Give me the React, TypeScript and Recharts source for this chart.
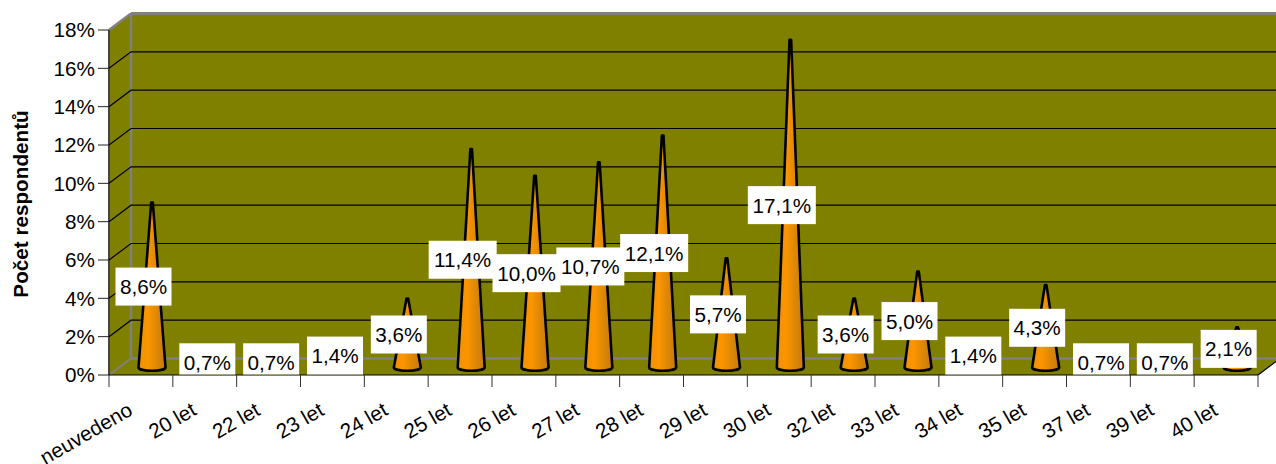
import React from "react";
import { ComposedChart, Bar, XAxis, YAxis, CartesianGrid, LabelList, Label } from "recharts";

const categories = ["neuvedeno","20 let","22 let","23 let","24 let","25 let","26 let","27 let","28 let","29 let","30 let","32 let","33 let","34 let","35 let","37 let","39 let","40 let"];
const shares = [8.6,0.7,0.7,1.4,3.6,11.4,10.0,10.7,12.1,5.7,17.1,3.6,5.0,1.4,4.3,0.7,0.7,2.1];
const yTicks = [0,2,4,6,8,10,12,14,16,18];
const data = categories.map((name, i) => ({ name, share: shares[i] }));

const W = 1276, H = 464;
const LEFT = 109, RIGHT = 1258, TOP = 30, BOTTOM = 375;
const DX = 22, DY = 16.5;
const FONT = "'Liberation Sans', Arial, sans-serif";
const FS = 20.7;
const OLIVE = "#808000";
const GREY = "#808080";
const STEP = (RIGHT - LEFT) / categories.length;

function Walls() {
  const r = RIGHT + DX + 4;
  const bx = LEFT + DX, tY = TOP - DY, bY = BOTTOM - DY;
  return (
    <g>
      <polygon points={`${LEFT},${TOP} ${bx},${tY} ${r},${tY} ${r},${bY} ${RIGHT + DX},${bY} ${RIGHT},${BOTTOM} ${LEFT},${BOTTOM}`} fill={OLIVE} />
      <line x1={bx} y1={tY} x2={r} y2={tY} stroke={GREY} strokeWidth={3} />
      <line x1={bx} y1={tY} x2={bx} y2={bY} stroke={GREY} strokeWidth={2.5} />
      <line x1={bx} y1={bY} x2={r} y2={bY} stroke={GREY} strokeWidth={2.5} />
      <line x1={LEFT} y1={TOP} x2={bx} y2={tY} stroke={GREY} strokeWidth={2.5} />
      <line x1={LEFT} y1={BOTTOM} x2={bx} y2={bY} stroke={GREY} strokeWidth={2} />
      <line x1={RIGHT} y1={BOTTOM} x2={RIGHT + DX} y2={bY} stroke="#000" strokeWidth={1.2} />
      <line x1={LEFT} y1={TOP} x2={LEFT} y2={BOTTOM} stroke="#444" strokeWidth={2} />
    </g>
  );
}

function gridLine(p: any) {
  const y = p.y1;
  const edge = Math.abs(y - TOP) < 1 || Math.abs(y - BOTTOM) < 1;
  return (
    <g key={p.key ?? p.index}>
      {p.index === 0 ? <Walls /> : null}
      {edge ? null : (
        <polyline points={`${p.x1},${y} ${p.x1 + DX},${y - DY} ${p.x2 + DX + 4},${y - DY}`} fill="none" stroke="#000" strokeWidth={1.2} />
      )}
    </g>
  );
}

function Cone(p: any) {
  const cx = p.x + p.width / 2 + 11;
  const base = p.y + p.height - 7.5;
  const top = p.y - 7.5;
  const hw = 13.5;
  return (
    <path
      d={`M${cx - hw},${base} L${cx - 0.8},${top} L${cx + 0.8},${top} L${cx + hw},${base} A${hw},3.2 0 0 1 ${cx - hw},${base} Z`}
      fill="url(#coneFill)"
      stroke="#000"
      strokeWidth={2.6}
      strokeLinejoin="round"
    />
  );
}

function ValueLabel(p: any) {
  const text = String(p.value.toFixed(1)).replace(".", ",") + "%";
  const cx = p.x + p.width / 2 + 2.5;
  const cy = p.y + p.height / 2 - 6;
  const w = text.length > 4 ? 68 : 56;
  const top = cy - 19;
  const bottom = Math.min(cy + 19, p.y + p.height - 0.5);
  return (
    <g>
      <rect x={cx - w / 2} y={top} width={w} height={bottom - top} fill="#fff" />
      <text x={cx} y={cy} textAnchor="middle" dominantBaseline="central" fontFamily={FONT} fontSize={FS} fill="#000">{text}</text>
    </g>
  );
}

function XTick(p: any) {
  const x = p.x - 7, y = 414;
  const left = p.x - STEP / 2;
  const isLast = p.index === categories.length - 1;
  return (
    <g>
      <line x1={left} y1={BOTTOM} x2={left} y2={BOTTOM + 12} stroke="#333" strokeWidth={1} />
      {isLast ? <line x1={left + STEP} y1={BOTTOM} x2={left + STEP} y2={BOTTOM + 12} stroke="#333" strokeWidth={1} /> : null}
      <text x={x} y={y} transform={`rotate(-30 ${x} ${y})`} textAnchor="end" fontFamily={FONT} fontSize={FS} fill="#000">
        {p.payload.value}
      </text>
    </g>
  );
}

export default function App() {
  return (
    <div style={{ position: "absolute", left: 0, top: 0, width: W, height: H, overflow: "hidden", background: "#fff" }}>
      <ComposedChart width={W} height={H} data={data} barCategoryGap="0%" margin={{ top: TOP, right: W - RIGHT, bottom: 0, left: 0 }}>
        <defs>
          <linearGradient id="coneFill" x1="0" y1="0" x2="1" y2="0">
            <stop offset="0%" stopColor="#f09000" />
            <stop offset="35%" stopColor="#fa9600" />
            <stop offset="65%" stopColor="#e08805" />
            <stop offset="100%" stopColor="#c47a10" />
          </linearGradient>
        </defs>
        <CartesianGrid vertical={false} horizontal={gridLine} />
        <XAxis
          dataKey="name"
          interval={0}
          height={H - BOTTOM}
          tickLine={false}
          axisLine={{ stroke: "#000", strokeWidth: 1.2 }}
          tick={XTick}
        />
        <YAxis
          type="number"
          domain={[0, 18]}
          ticks={yTicks}
          interval={0}
          width={LEFT}
          tickSize={11}
          tickMargin={3}
          tickFormatter={(v: number) => `${v}%`}
          tickLine={{ stroke: "#222" }}
          axisLine={false}
          tick={{ fontFamily: FONT, fontSize: FS, fill: "#000" }}
        >
          <Label
            value="Počet respondentů"
            angle={-90}
            position="insideLeft"
            offset={0}
            content={() => (
              <text x={20} y={204} transform="rotate(-90 20 204)" textAnchor="middle" dominantBaseline="central" fontFamily={FONT} fontSize={FS} fontWeight="bold" fill="#000">
                Počet respondentů
              </text>
            )}
          />
        </YAxis>
        <Bar dataKey="share" isAnimationActive={false} shape={Cone}>
          <LabelList dataKey="share" content={ValueLabel} />
        </Bar>
      </ComposedChart>
    </div>
  );
}
